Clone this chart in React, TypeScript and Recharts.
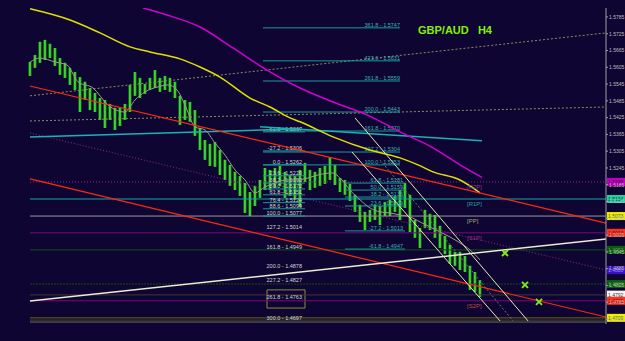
import React from "react";
import {
  ComposedChart,
  Bar,
  Line,
  Scatter,
  XAxis,
  YAxis,
  ReferenceLine,
  ReferenceArea,
} from "recharts";

const BG = "#0f0533";

// H4 bars, index starts at bar 6
const FIRST_BAR = 6;
const highs = [
  1.5624, 1.5649, 1.5696, 1.5703, 1.5689, 1.5674, 1.5638, 1.5621, 1.5603, 1.5588,
  1.557, 1.5553, 1.5531, 1.5513, 1.5495, 1.5488, 1.5474, 1.546, 1.546, 1.5474,
  1.5542, 1.5588, 1.5567, 1.5545, 1.5567, 1.5595, 1.5567, 1.5574, 1.5567, 1.5553,
  1.5503, 1.5488, 1.5481, 1.5452, 1.5388, 1.5345, 1.5331, 1.5338, 1.5309, 1.5274,
  1.5256, 1.5231, 1.5216, 1.5191, 1.5159, 1.5181, 1.5202, 1.5245, 1.5238, 1.5245,
  1.5252, 1.5231, 1.522, 1.5216, 1.5238, 1.5263, 1.5238, 1.5231, 1.5245, 1.5252,
  1.5284, 1.5256, 1.5209, 1.5202, 1.5188, 1.5149, 1.5113, 1.5088, 1.5095, 1.5113,
  1.5109, 1.5123, 1.5131, 1.5145, 1.5166, 1.5191, 1.5149, 1.5059, 1.503, 1.5095,
  1.5081, 1.5077, 1.5038, 1.5002, 1.497, 1.4945, 1.4945, 1.493, 1.4895, 1.4873,
  1.4844,
];
const lows = [
  1.5574, 1.5603, 1.5621, 1.5631, 1.5638, 1.561, 1.5578, 1.5567, 1.5542, 1.5524,
  1.5445, 1.5488, 1.5452, 1.5445, 1.5417, 1.5388, 1.5417, 1.5381, 1.5395, 1.5417,
  1.5445, 1.5503, 1.5495, 1.551, 1.5524, 1.5531, 1.5517, 1.5524, 1.5517, 1.5495,
  1.5399, 1.5417, 1.541, 1.536, 1.5309, 1.5274, 1.5252, 1.5249, 1.522, 1.5202,
  1.5181, 1.5166, 1.5145, 1.5084, 1.5073, 1.5109, 1.5138, 1.5166, 1.5166, 1.5174,
  1.5181, 1.5138, 1.5145, 1.5131, 1.5106, 1.5195, 1.5166, 1.5174, 1.5181, 1.5188,
  1.5202, 1.5184, 1.5159, 1.5149, 1.5127, 1.5088, 1.5052, 1.5023, 1.5052, 1.5059,
  1.5041, 1.5073, 1.5073, 1.5088, 1.5059, 1.5102, 1.5016, 1.4995, 1.4959, 1.503,
  1.5023, 1.4995, 1.4959, 1.4937, 1.4902, 1.4895, 1.488, 1.4873, 1.4809, 1.4802,
  1.4784,
];

// moving averages
const yellowMaX = [6, 14, 20, 26, 30, 36, 40, 44, 50, 54, 58, 60, 66.6, 74, 80, 83.6, 86.6, 92, 96];
const yellowMaP = [
  1.5814, 1.5774, 1.5728, 1.5678, 1.566, 1.5635, 1.5606, 1.557, 1.5495, 1.5463,
  1.5424, 1.541, 1.5356, 1.5309, 1.5281, 1.5256, 1.5231, 1.5202, 1.5156,
];
const magentaMaX = [28.6, 33.4, 40, 46.6, 53.4, 60, 66.6, 73.4, 80, 86.6, 92, 96.4];
const magentaMaP = [
  1.5817, 1.5792, 1.5749, 1.5674, 1.5595, 1.5531, 1.5481, 1.5435, 1.5374, 1.5317,
  1.5256, 1.5211,
];
const grayMaX = [
  6, 8, 11, 13.4, 15.6, 18.6, 21.6, 25, 27, 29, 31.6, 33.6, 35.4, 37, 39, 41, 43, 45,
  47, 49, 51, 53, 55, 57, 59, 61.6, 63.6, 66.4, 68.4, 70, 72, 74, 76, 78, 80, 82, 84,
  86, 88, 90, 92, 94, 96,
];
const grayMaP = [
  1.5624, 1.5638, 1.5624, 1.5613, 1.5553, 1.5531, 1.547, 1.5445, 1.5488, 1.5517,
  1.5535, 1.5542, 1.5524, 1.547, 1.5392, 1.5381, 1.5334, 1.5291, 1.5238, 1.5202,
  1.5156, 1.5177, 1.5191, 1.5202, 1.5202, 1.5209, 1.522, 1.5227, 1.5202, 1.5166,
  1.5131, 1.5102, 1.5088, 1.5084, 1.5077, 1.507, 1.5052, 1.5034, 1.5016, 1.4998,
  1.4977, 1.4952, 1.4916,
];

// trend lines: [bar, price] pairs
const redUpper = [[6, 1.5538], [121.2, 1.5048]];
const redLower = [[6, 1.5206], [121.2, 1.4712]];
const supportLine = [[6, 1.4769], [121.2, 1.4991]];
const cyanTrendA = [[6, 1.5356], [60, 1.5385]];
const cyanTrendB = [[52, 1.5392], [96.4, 1.5342]];
const dotUpper = [[6, 1.5503], [121.2, 1.5728]];
const dotMiddle = [[6, 1.5413], [121.2, 1.5463]];
const purpleDiag = [[6, 1.537], [121.2, 1.488]];
const channelA = [[70.4, 1.5302], [100, 1.4698]];
const channelB = [[71, 1.5424], [105.6, 1.4698]];
const channelMid = [[76, 1.5274], [102.6, 1.4698]];

// horizontal levels
const levelPrices = [1.5134, 1.5073, 1.5013, 1.4952, 1.483, 1.4791, 1.477, 1.4709, 1.4701, 1.4694];
const levelColors = ["#14a8a8", "#9a9a9a", "#7a0a7a", "#0d4f12", "#0d4f12", "#3a3a3a", "#7a0a7a", "#6a6a10", "#4a4a18", "#6a6a6a"];
const purpleFlat = 1.5195;

// fibonacci labels
const fibTopPrices = [1.5746, 1.5628, 1.5556, 1.5445, 1.5377, 1.5302, 1.5256];
const fibTopTexts = ["361.8 - 1.5747", "423.6 - 1.5631", "261.8 - 1.5559", "200.0 - 1.5443", "161.8 - 1.5370", "127.2 - 1.5304", "100.0 - 1.5253"];
const fibMidPrices = [1.5191, 1.5166, 1.5141, 1.5109, 1.502, 1.4955];
const fibMidTexts = ["61.8 - 1.5181", "50.0 - 1.5159", "38.2 - 1.5136", "23.6 - 1.5109", "-27.2 - 1.5013", "-61.8 - 1.4947"];
const fibLeftPrices = [1.5374, 1.5306, 1.5256, 1.5217, 1.5191, 1.517, 1.5149, 1.5121, 1.5099, 1.5073];
const fibLeftTexts = ["-61.8 - 1.5367", "-27.2 - 1.5306", "0.0 - 1.5262", "23.6 - 1.5220", "38.2 - 1.5193", "50.0 - 1.5172", "61.8 - 1.5151", "76.4 - 1.5124", "88.6 - 1.5099", "100.0 - 1.5077"];
const fibLowPrices = [1.5023, 1.4952, 1.4884, 1.4834, 1.4773, 1.4698];
const fibLowTexts = ["127.2 - 1.5014", "161.8 - 1.4949", "200.0 - 1.4878", "227.2 - 1.4827", "261.8 - 1.4763", "300.0 - 1.4697"];

// pivots
const pivotPrices = [1.5195, 1.5134, 1.5073, 1.5013, 1.477];
const pivotNames = ["R2P", "R1P", "PP", "S1P", "S2P"];
const pivotColors = ["#8a3a9a", "#2aa0a0", "#a8a878", "#a03090", "#c04848"];

// price tags on the right axis
const tagPrices = [1.5195, 1.5134, 1.5073, 1.5013, 1.4952, 1.488, 1.483, 1.4792, 1.477, 1.4709];
const tagFills = ["#c000c0", "#20d0a0", "#f0f000", "#ff3020", "#0c5a0c", "#3810c8", "#0c5a0c", "#f4f4f4", "#ff3020", "#f0f000"];
const tagInk = ["#4a004a", "#0a4a3a", "#5a5a00", "#6a1000", "#48a848", "#a090ff", "#48a848", "#404040", "#6a1000", "#5a5a00"];

const crossX = [101, 105, 107.8];
const crossP = [1.4941, 1.4827, 1.4766];

const yTicks = [
  1.5785, 1.5725, 1.5665, 1.5605, 1.5545, 1.5485, 1.5425, 1.5365, 1.5305, 1.5245,
  1.5185, 1.5125, 1.5065, 1.5005, 1.4945, 1.4885, 1.4825, 1.4765, 1.4705,
];

const bars = highs.map((h, k) => ({ i: FIRST_BAR + k, range: [lows[k], h] }));
const toSeries = (xs: number[], ps: number[]) => xs.map((x, k) => ({ i: x, p: ps[k] }));
const seg = (s: number[][]) => [{ x: s[0][0], y: s[0][1] }, { x: s[1][0], y: s[1][1] }];
const crosses = toSeries(crossX, crossP);

const Candle = (props: any) => {
  const { x, y, width, height } = props;
  const cx = x + width / 2;
  const top = Math.min(y, y + height);
  const h = Math.max(Math.abs(height), 1);
  return (
    <g>
      <rect x={cx - 1.5} y={top} width={3} height={h} fill="#159a15" />
      <line x1={cx} x2={cx} y1={top} y2={top + h} stroke="#6cff48" strokeWidth={1} />
    </g>
  );
};

const Cross = (props: any) => {
  const { cx, cy } = props;
  return (
    <g stroke="#7ee81a" strokeWidth={2}>
      <line x1={cx - 3} y1={cy - 3} x2={cx + 3} y2={cy + 3} />
      <line x1={cx - 3} y1={cy + 3} x2={cx + 3} y2={cy - 3} />
    </g>
  );
};

const rightText = (text: string, color: string, inset = 0) => (props: any) => {
  const vb = props.viewBox;
  return (
    <text x={vb.x + vb.width - inset} y={vb.y - 1} fontSize={5.5} fill={color} textAnchor="end">
      {text}
    </text>
  );
};

const pivotText = (text: string, color: string) => (props: any) => {
  const vb = props.viewBox;
  return (
    <text x={vb.x} y={vb.y + 7} fontSize={6} fill={color}>
      [{text}]
    </text>
  );
};

const tagLabel = (price: number, fill: string, ink: string) => (props: any) => {
  const vb = props.viewBox;
  const x = vb.x + vb.width + 1;
  return (
    <g>
      <rect x={x} y={vb.y - 4} width={18} height={8} fill={fill} />
      <text x={x + 1} y={vb.y + 2} fontSize={5} fill={ink}>
        {price.toFixed(4)}
      </text>
    </g>
  );
};

export default function App() {
  return (
    <div style={{ position: "fixed", left: 0, top: 0, width: 625, height: 341, background: BG }}>
      <ComposedChart
        width={625}
        height={341}
        data={bars}
        margin={{ top: 8, right: 0, bottom: 17, left: 0 }}
        style={{ fontFamily: "'Liberation Sans', Arial, sans-serif" }}
      >
        <XAxis type="number" dataKey="i" domain={[0, 121.2]} allowDataOverflow hide />
        <YAxis
          orientation="right"
          width={19}
          domain={[1.4687, 1.5817]}
          allowDataOverflow
          ticks={yTicks}
          interval={0}
          tickFormatter={(v) => v.toFixed(4)}
          tick={{ fill: "#bdbdbd", fontSize: 5 }}
          tickSize={2}
          tickMargin={1}
          stroke="#a0a0a0"
        />

        {levelPrices.map((p, k) => (
          <ReferenceLine key={"lv" + k} segment={seg([[6, p], [121.2, p]])} stroke={levelColors[k]} strokeDasharray={k === 4 ? "2 1" : undefined} ifOverflow="hidden" />
        ))}
        <ReferenceLine segment={seg([[6, purpleFlat], [121.2, purpleFlat]])} stroke="#8a2a8a" strokeDasharray="1 2" ifOverflow="hidden" />
        <ReferenceLine segment={seg(dotUpper)} stroke="#8c8c5a" strokeDasharray="2 2" ifOverflow="hidden" />
        <ReferenceLine segment={seg(dotMiddle)} stroke="#8c8c5a" strokeDasharray="2 2" ifOverflow="hidden" />
        <ReferenceLine segment={seg(purpleDiag)} stroke="#8a2a8a" strokeDasharray="1 2" ifOverflow="hidden" />

        {fibTopPrices.map((p, k) => (
          <ReferenceLine key={"ft" + k} segment={seg([[52.6, p], [80, p]])} stroke="#1a9a9a" ifOverflow="hidden" label={rightText(fibTopTexts[k], "#35b4b4")} />
        ))}
        {fibMidPrices.map((p, k) => (
          <ReferenceLine key={"fm" + k} segment={seg([[69, p], [81, p]])} stroke="#1a9a9a" ifOverflow="hidden" label={rightText(fibMidTexts[k], "#35b4b4", 2)} />
        ))}
        {fibLeftPrices.map((p, k) => (
          <ReferenceLine key={"fl" + k} segment={seg([[52.6, p], [61, p]])} stroke="#1a9a9a" ifOverflow="hidden" label={rightText(fibLeftTexts[k], "#d4d4d4", 3)} />
        ))}
        {fibLowPrices.map((p, k) => (
          <ReferenceLine key={"fw" + k} segment={seg([[52.6, p], [61, p]])} stroke="none" ifOverflow="hidden" label={rightText(fibLowTexts[k], "#d4d4d4", 3)} />
        ))}
        <ReferenceArea x1={53.4} x2={61} y1={1.4744} y2={1.4809} fill="none" stroke="#8a8a3a" ifOverflow="hidden" />

        <ReferenceLine segment={seg(cyanTrendA)} stroke="#18b4b4" strokeWidth={1.5} ifOverflow="hidden" />
        <ReferenceLine segment={seg(cyanTrendB)} stroke="#18b4b4" strokeWidth={1.5} ifOverflow="hidden" />

        <Bar dataKey="range" barSize={3} shape={Candle} isAnimationActive={false} />

        <Line data={toSeries(grayMaX, grayMaP)} dataKey="p" type="monotone" stroke="#a09a88" strokeWidth={1} dot={false} isAnimationActive={false} />
        <Line data={toSeries(yellowMaX, yellowMaP)} dataKey="p" type="monotone" stroke="#e0e000" strokeWidth={1.5} dot={false} isAnimationActive={false} />
        <Line data={toSeries(magentaMaX, magentaMaP)} dataKey="p" type="monotone" stroke="#d000d0" strokeWidth={1.5} dot={false} isAnimationActive={false} />

        <ReferenceLine segment={seg(redUpper)} stroke="#ff2a10" strokeWidth={1.2} ifOverflow="hidden" />
        <ReferenceLine segment={seg(redLower)} stroke="#ff2a10" strokeWidth={1.2} ifOverflow="hidden" />
        <ReferenceLine segment={seg(supportLine)} stroke="#ecead0" strokeWidth={1.5} ifOverflow="hidden" />
        <ReferenceLine segment={seg(channelA)} stroke="#e8e8a8" ifOverflow="hidden" />
        <ReferenceLine segment={seg(channelB)} stroke="#e8e8a8" ifOverflow="hidden" />
        <ReferenceLine segment={seg(channelMid)} stroke="#777760" strokeDasharray="2 2" ifOverflow="hidden" />

        {pivotPrices.map((p, k) => (
          <ReferenceLine key={"pv" + k} segment={seg([[93.4, p], [98, p]])} stroke="none" ifOverflow="hidden" label={pivotText(pivotNames[k], pivotColors[k])} />
        ))}

        <Scatter data={crosses} dataKey="p" shape={Cross} isAnimationActive={false} />

        {tagPrices.map((p, k) => (
          <ReferenceLine key={"tg" + k} y={p} stroke="none" label={tagLabel(p, tagFills[k], tagInk[k])} />
        ))}
      </ComposedChart>
      <div
        style={{
          position: "absolute",
          left: 418,
          top: 24,
          color: "#84f000",
          font: "bold 11px 'Liberation Sans', Arial, sans-serif",
          whiteSpace: "pre",
        }}
      >
        GBP/AUD   H4
      </div>
    </div>
  );
}
